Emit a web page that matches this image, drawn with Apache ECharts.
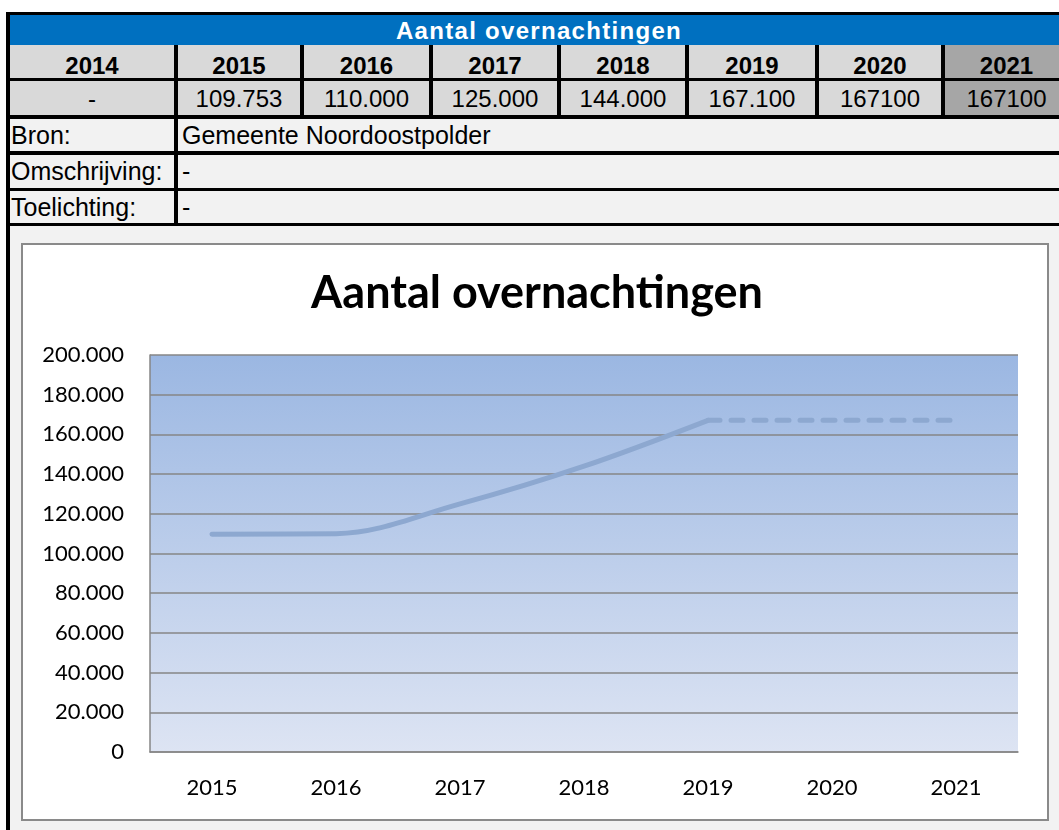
<!DOCTYPE html>
<html>
<head>
<meta charset="utf-8">
<script src="https://cdn.jsdelivr.net/npm/echarts@6/dist/echarts.min.js"></script>
<style>
  html, body { margin: 0; padding: 0; background: #fff; }
  body { width: 1059px; height: 830px; overflow: hidden; position: relative; font-family: "Liberation Sans", Arial, sans-serif; }
  .abs { position: absolute; box-sizing: border-box; }
  .cell { position: absolute; box-sizing: border-box; color: #000; white-space: nowrap; overflow: hidden; }
  #chart { position: absolute; left: 0; top: 0; width: 1059px; height: 830px; z-index: 5; }
</style>
</head>
<body>
<div id="page"></div>
<div id="chart"></div>
<script>
// ---- data ----
var tableTitle = "Aantal overnachtingen";
var tableYears = ["2014", "2015", "2016", "2017", "2018", "2019", "2020", "2021"];
var tableValues = ["-", "109.753", "110.000", "125.000", "144.000", "167.100", "167100", "167100"];
var infoLabels = ["Bron:", "Omschrijving:", "Toelichting:"];
var infoTexts = ["Gemeente Noordoostpolder", "-", "-"];

var chartTitle = "Aantal overnachtingen";
var categories = ["2015", "2016", "2017", "2018", "2019", "2020", "2021"];
var actualValues = [109753, 110000, 125000, 144000, 167100, null, null];
var forecastValues = [null, null, null, null, 167100, 167100, 167100];
var yTicks = [0, 20000, 40000, 60000, 80000, 100000, 120000, 140000, 160000, 180000, 200000];

// ---- layout of the spreadsheet part ----
var page = document.getElementById('page');
function box(x, y, w, h, bg, extra) {
  var d = document.createElement('div');
  d.className = 'abs';
  d.style.left = x + 'px'; d.style.top = y + 'px';
  d.style.width = w + 'px'; d.style.height = h + 'px';
  d.style.background = bg;
  if (extra) for (var k in extra) d.style[k] = extra[k];
  page.appendChild(d);
  return d;
}
function cell(x, y, w, h, bg, text, opts) {
  var d = box(x, y, w, h, bg);
  d.className = 'cell';
  var s = document.createElement('span');
  s.textContent = text;
  s.style.position = 'absolute';
  s.style.fontSize = (opts.size || 24) + 'px';
  s.style.fontWeight = opts.bold ? 'bold' : 'normal';
  s.style.color = opts.color || '#000';
  s.style.lineHeight = '1';
  s.style.top = (opts.top || 0) + 'px';
  if (opts.align === 'center') { s.style.left = '0'; s.style.width = '100%'; s.style.textAlign = 'center'; }
  else { s.style.left = (opts.left || 2) + 'px'; }
  if (opts.ls) s.style.letterSpacing = opts.ls;
  d.appendChild(s);
  return d;
}
// black background block forms the borders
box(6, 12, 1070, 214, '#000');
// left border below table
box(6, 226, 4, 604, '#000');
// grey area around chart
box(10, 226, 1060, 604, '#F2F2F2');
// chart box
box(21, 243, 1028, 578, '#fff', { border: '2px solid #8a8a8a' });

// title bar
cell(10, 15, 1058, 30, '#0070C0', tableTitle, { bold: true, size: 24, color: '#fff', align: 'center', top: 4, ls: '1.3px' });

var colX = [[10, 174], [178, 300], [304, 429], [433, 557], [561, 685], [689, 815], [819, 941], [945, 1068]];
for (var i = 0; i < tableYears.length; i++) {
  var last = i === tableYears.length - 1;
  var bg = last ? '#A6A6A6' : '#D9D9D9';
  cell(colX[i][0], 45, colX[i][1] - colX[i][0], 33, bg, tableYears[i], { bold: true, size: 24, align: 'center', top: 9 });
  cell(colX[i][0], 81, colX[i][1] - colX[i][0], 34, bg, tableValues[i], { size: 24, align: 'center', top: 6 });
}
var rowY = [[119, 151], [155, 188], [191, 223]];
for (var r = 0; r < infoLabels.length; r++) {
  cell(10, rowY[r][0], 164, rowY[r][1] - rowY[r][0], '#F2F2F2', infoLabels[r], { size: 25, left: 1, top: 4 });
  cell(178, rowY[r][0], 892, rowY[r][1] - rowY[r][0], '#F2F2F2', infoTexts[r], { size: 25, left: 4, top: 4 });
}

// ---- chart ----
var chart = echarts.init(document.getElementById('chart'), null, { renderer: 'canvas' });
function fmt(v) {
  var s = String(Math.round(v));
  return s.replace(/\B(?=(\d{3})+(?!\d))/g, '.');
}
var axisFont = { fontFamily: 'Lato', fontSize: 22, color: '#000' };
var option = {
  backgroundColor: 'transparent',
  animation: false,
  title: {
    text: chartTitle,
    left: 532,
    textAlign: 'center',
    top: 266,
    textStyle: { fontFamily: 'Lato', fontWeight: 'bold', fontSize: 45, color: '#000' }
  },
  grid: {
    left: 150, top: 355, width: 868, height: 397,
    show: true,
    borderWidth: 0,
    backgroundColor: new echarts.graphic.LinearGradient(0, 0, 0, 1, [
      { offset: 0, color: '#9BB7E2' },
      { offset: 1, color: '#DDE4F3' }
    ])
  },
  xAxis: {
    type: 'category',
    data: categories,
    boundaryGap: true,
    axisLine: { show: true, lineStyle: { color: '#868686', width: 1.5 } },
    axisTick: { show: false },
    axisLabel: Object.assign({ margin: 25 }, axisFont),
    splitLine: { show: false }
  },
  yAxis: {
    type: 'value',
    min: yTicks[0],
    max: yTicks[yTicks.length - 1],
    interval: yTicks[1] - yTicks[0],
    axisLine: { show: true, lineStyle: { color: '#868686', width: 1.5 } },
    axisTick: { show: false },
    axisLabel: Object.assign({ margin: 26, formatter: fmt }, axisFont),
    splitLine: { show: true, lineStyle: { color: '#868686', width: 1.5 } }
  },
  series: [
    {
      type: 'line',
      data: actualValues,
      smooth: 0.35,
      symbol: 'none',
      connectNulls: false,
      lineStyle: { color: '#8DA8D0', width: 5, cap: 'round', join: 'round' }
    },
    {
      type: 'line',
      data: forecastValues,
      symbol: 'none',
      lineStyle: { color: '#8DA8D0', width: 5, type: [12, 11], cap: 'round' }
    }
  ]
};
chart.setOption(option);
</script>
</body>
</html>
